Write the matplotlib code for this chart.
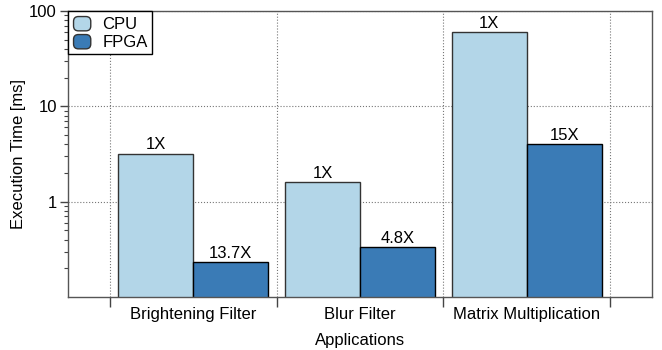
import numpy as np
import matplotlib.pyplot as plt
from matplotlib.patches import FancyBboxPatch
from matplotlib.legend_handler import HandlerPatch
from matplotlib.ticker import FixedLocator, NullFormatter, LogLocator

plt.rcParams['font.family'] = ['Liberation Sans', 'DejaVu Sans']

apps = ["Brightening Filter", "Blur Filter", "Matrix Multiplication"]
cpu_ms = [3.2, 1.6, 60.5]
fpga_ms = [0.234, 0.333, 4.03]
cpu_labels = ["1X", "1X", "1X"]
fpga_labels = ["13.7X", "4.8X", "15X"]

cpu_color = "#b3d6e8"
fpga_color = "#3a7bb6"


class RoundHandle(HandlerPatch):
  """rounded square legend keys"""
  def create_artists(self, legend, orig, xd, yd, width, height, fontsize, trans):
    fc = orig.patches[0].get_facecolor()
    p = FancyBboxPatch((-xd + 1, -yd + 1), width - 2, height - 2,
                       boxstyle="round,pad=0,rounding_size=3.5",
                       facecolor=fc, edgecolor="#333333",
                       linewidth=1.0, transform=trans)
    return [p]


def main():
  fig = plt.figure(figsize=(6.62, 3.5), dpi=100)
  ax = fig.add_axes([0.1027, 0.1514, 0.8823, 0.8172])
  x = np.arange(len(apps))
  w = 0.45
  b1 = ax.bar(x - w / 2, cpu_ms, w, color=cpu_color, edgecolor="#333333",
              linewidth=1.0, label="CPU", zorder=2)
  b2 = ax.bar(x + w / 2, fpga_ms, w, color=fpga_color, edgecolor="black",
              linewidth=1.0, label="FPGA", zorder=2)
  for bars, labs in ((b1, cpu_labels), (b2, fpga_labels)):
    for r, s in zip(bars, labs):
      ax.text(r.get_x() + r.get_width() / 2, r.get_height() * 1.03, s,
              ha="center", va="bottom", fontsize=12)

  ax.set_yscale("log")
  ax.set_ylim(0.1, 100)
  ax.set_xlim(-0.75, 2.75)
  ax.yaxis.set_major_locator(FixedLocator([1, 10, 100]))
  ax.set_yticklabels(["1", "10", "100"])
  ax.yaxis.set_minor_locator(LogLocator(base=10, subs=np.arange(2, 10)))
  ax.yaxis.set_minor_formatter(NullFormatter())

  # boundaries as major ticks, names on minor ticks
  ax.set_xticks(np.arange(len(apps) + 1) - 0.5)
  ax.set_xticklabels([])
  ax.set_xticks(x, minor=True)
  ax.set_xticklabels(apps, minor=True, fontsize=12)
  ax.tick_params(axis="x", which="minor", length=0, pad=7)
  ax.tick_params(axis="x", which="major", length=7, width=1, color="#444444")
  ax.tick_params(axis="y", which="major", length=6, width=1, labelsize=12,
                 pad=2, color="#444444")
  ax.tick_params(axis="y", which="minor", length=3, width=0.8, color="#444444")

  ax.grid(True, which="major", linestyle=":", color="#777777", linewidth=0.8)
  ax.set_axisbelow(True)
  for s in ax.spines.values():
    s.set_color("#555555")
    s.set_linewidth(1.0)

  ax.set_xlabel("Applications", fontsize=12, labelpad=8)
  ax.set_ylabel("Execution Time [ms]", fontsize=12, labelpad=2)

  leg = ax.legend(loc="upper left", fontsize=12, fancybox=False, framealpha=1,
                  edgecolor="black", borderaxespad=0, handlelength=1.2,
                  handleheight=1.2, handletextpad=0.6, borderpad=0.25,
                  labelspacing=0.05,
                  handler_map={type(b1): RoundHandle()})
  leg.get_frame().set_linewidth(1.0)

  fig.savefig("out.png", dpi=100)


if __name__ == "__main__":
  main()
